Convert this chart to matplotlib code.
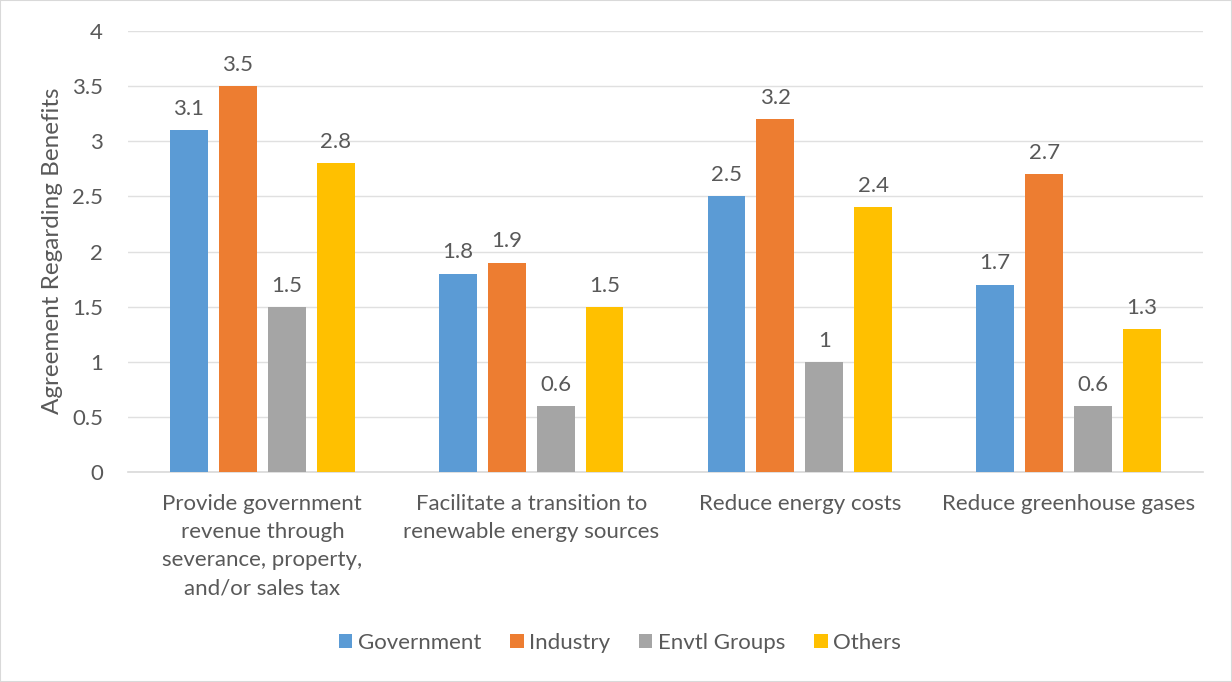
import matplotlib
matplotlib.use("Agg")
import matplotlib.pyplot as plt
import numpy as np
from matplotlib.patches import Rectangle

# Survey results: mean agreement per stakeholder group
categories = [
    "Provide government\nrevenue through\nseverance, property,\nand/or sales tax",
    "Facilitate a transition to\nrenewable energy sources",
    "Reduce energy costs",
    "Reduce greenhouse gases",
]
groups = ["Government", "Industry", "Envtl Groups", "Others"]
government = [3.1, 1.8, 2.5, 1.7]
industry = [3.5, 1.9, 3.2, 2.7]
envtl_groups = [1.5, 0.6, 1.0, 0.6]
others = [2.8, 1.5, 2.4, 1.3]
yticks = [0, 0.5, 1, 1.5, 2, 2.5, 3, 3.5, 4]

colors = ["#5B9BD5", "#ED7D31", "#A5A5A5", "#FFC000"]
text_color = "#595959"
fs = 16

plt.rcParams["font.family"] = ["Lato", "DejaVu Sans"]

fig = plt.figure(figsize=(12.32, 6.82), dpi=100)
fig.patches.append(Rectangle((0, 0), 1, 1, transform=fig.transFigure,
                             fill=False, edgecolor="#D9D9D9", linewidth=1.5))
ax = fig.add_axes([128 / 1232, 1 - 472 / 682, 1075 / 1232, 441 / 682])

x = np.arange(len(categories))
width = 0.141
step = 0.182
series = [government, industry, envtl_groups, others]
for i, (name, vals) in enumerate(zip(groups, series)):
    pos = x + (i - 1.5) * step
    bars = ax.bar(pos, vals, width, color=colors[i], label=name, zorder=3)
    for b, v in zip(bars, vals):
        ax.annotate(f"{v:g}", (b.get_x() + b.get_width() / 2, v),
                    textcoords="offset points", xytext=(0, 8),
                    ha="center", va="bottom", fontsize=fs, color=text_color)

ax.set_xlim(-0.5, len(categories) - 0.5)
ax.set_ylim(0, 4)
ax.set_yticks(yticks)
ax.set_yticklabels([f"{t:g}" for t in yticks])
ax.set_xticks(x)
ax.set_xticklabels(categories, linespacing=1.5, va="top")
ax.tick_params(axis="both", length=0, labelsize=fs, colors=text_color)
ax.tick_params(axis="x", pad=16)
ax.tick_params(axis="y", pad=18)

ax.grid(axis="y", color="#E0E0E0", linewidth=1, zorder=0)
for s in ["top", "right", "left"]:
    ax.spines[s].set_visible(False)
ax.spines["bottom"].set_color("#D9D9D9")
ax.spines["bottom"].set_linewidth(1.2)

fig.text(53 / 1232, 1 - 251 / 682, "Agreement Regarding Benefits",
         rotation=90, ha="center", va="center", fontsize=17.5,
         color=text_color)

leg = fig.legend(loc="center", bbox_to_anchor=(620 / 1232, 1 - 643 / 682),
                 ncol=4, frameon=False, fontsize=fs, handlelength=0.6,
                 handleheight=0.6, handletextpad=0.25, columnspacing=1.3)
for t in leg.get_texts():
    t.set_color(text_color)

fig.savefig("out.png", dpi=100, facecolor="white")
